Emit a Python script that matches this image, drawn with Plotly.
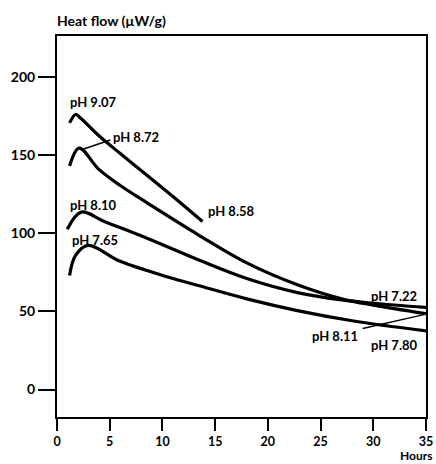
import plotly.graph_objects as go

# ---- data (hours, heat flow µW/g) ----
hours_a = [1.19, 1.76, 2.1, 3.95, 6.0, 8.65, 11.0, 13.8]
flow_a = [170.6, 176.0, 174.5, 162.5, 151.0, 136.5, 123.5, 107.5]

hours_b = [1.19, 2.1, 3.95, 6.0, 8.65, 13.4, 18.0, 22.8, 27.0, 30.0, 35.0]
flow_b = [143.0, 154.5, 141.0, 130.5, 119.0, 99.0, 81.0, 67.0, 58.0, 54.0, 48.5]

hours_c = [0.97, 2.3, 4.5, 8.65, 13.4, 18.0, 22.8, 27.0, 30.0, 35.0]
flow_c = [102.5, 113.5, 107.5, 96.5, 83.0, 71.0, 62.0, 57.3, 55.2, 52.5]

hours_d = [1.19, 1.76, 2.95, 6.0, 10.5, 13.4, 18.0, 22.8, 28.0, 35.0]
flow_d = [73.0, 85.8, 92.2, 82.0, 72.0, 66.5, 58.0, 50.5, 44.0, 37.5]

# labels
label_text = ["pH 9.07", "pH 8.72", "pH 8.58", "pH 8.10", "pH 7.65",
              "pH 7.22", "pH 8.11", "pH 7.80"]
label_x = [1.0, 5.1, 14.1, 1.0, 1.2, 29.6, 24.0, 29.6]
label_y = [184.0, 161.5, 114.5, 118.0, 95.5, 60.0, 34.5, 28.5]

# leader lines
leader1_x = [2.54, 5.05]
leader1_y = [153.9, 159.7]
leader2_x = [29.0, 34.8]
leader2_y = [39.0, 47.9]

x_ticks = [0, 5, 10, 15, 20, 25, 30, 35]
y_ticks = [0, 50, 100, 150, 200]

FONT = "Lato"
LW = 3.2

fig = go.Figure()
for hx, fy in [(hours_a, flow_a), (hours_b, flow_b), (hours_c, flow_c), (hours_d, flow_d)]:
    fig.add_trace(go.Scatter(x=hx, y=fy, mode="lines",
                             line=dict(color="black", width=LW, shape="spline", smoothing=1.0),
                             hoverinfo="skip", showlegend=False))
for lx, ly in [(leader1_x, leader1_y), (leader2_x, leader2_y)]:
    fig.add_trace(go.Scatter(x=lx, y=ly, mode="lines",
                             line=dict(color="black", width=1.5),
                             hoverinfo="skip", showlegend=False))

for t, x, y in zip(label_text, label_x, label_y):
    fig.add_annotation(x=x, y=y, text=f"<b>{t}</b>", showarrow=False,
                       xanchor="left", yanchor="middle",
                       font=dict(family=FONT, size=13, color="black"))

fig.add_annotation(xref="paper", yref="paper", x=-0.005, y=1.0, yshift=5,
                   text="<b>Heat flow (µW/g)</b>", showarrow=False,
                   xanchor="left", yanchor="bottom",
                   font=dict(family=FONT, size=14, color="black"))
fig.add_annotation(xref="paper", yref="paper", x=1.02, y=0, yshift=-47,
                   text="<b>Hours</b>", showarrow=False, borderpad=0,
                   xanchor="right", yanchor="bottom",
                   font=dict(family=FONT, size=12, color="black"))

fig.update_xaxes(range=[0, 35], tickvals=x_ticks, ticktext=[f"<b>{v}</b>" for v in x_ticks],
                 ticks="outside", ticklen=12, tickwidth=2, tickcolor="black",
                 showline=True, linewidth=2, linecolor="black", mirror=True,
                 showgrid=False, zeroline=False, automargin=False,
                 tickfont=dict(family=FONT, size=12.5, color="black"))
fig.update_yaxes(range=[-17.6, 226.2], tickvals=y_ticks, ticktext=[f"<b>{v}</b>" for v in y_ticks],
                 ticks="outside", ticklen=17, tickwidth=2, tickcolor="black",
                 showline=True, linewidth=2, linecolor="black", mirror=True,
                 showgrid=False, zeroline=False, automargin=False,
                 tickfont=dict(family=FONT, size=14, color="black"))

fig.update_layout(width=436, height=464, margin=dict(l=57, r=10, t=36, b=47, autoexpand=False),
                  paper_bgcolor="white", plot_bgcolor="white", showlegend=False)

fig.write_html("out.html", config={"displayModeBar": False},
               post_script="document.body.style.margin='0px';document.body.style.overflow='hidden';")
